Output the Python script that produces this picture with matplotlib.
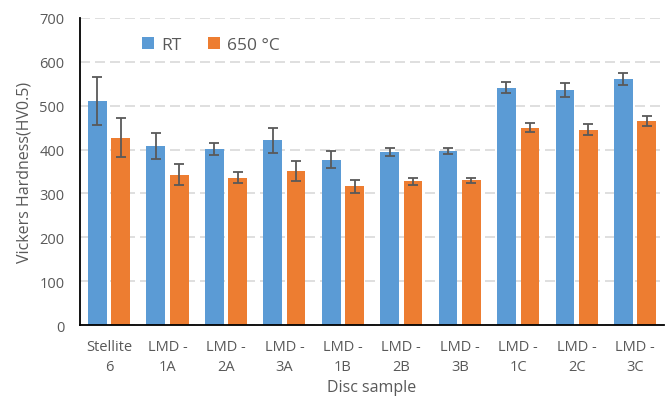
import numpy as np
import matplotlib
matplotlib.use("Agg")
import matplotlib.pyplot as plt

# values
samples = ["Stellite\n6", "LMD -\n1A", "LMD -\n2A", "LMD -\n3A", "LMD -\n1B",
           "LMD -\n2B", "LMD -\n3B", "LMD -\n1C", "LMD -\n2C", "LMD -\n3C"]
hv_rt = [511, 408, 402, 421, 377, 394, 396, 541, 536, 560]
err_rt = [54, 29, 14, 28, 19, 9, 7, 13, 16, 14]
hv_650 = [427, 343, 336, 351, 316, 328, 330, 450, 445, 465]
err_650 = [44, 23, 12, 23, 15, 8, 6, 11, 13, 12]

plt.rcParams['font.family'] = ['Open Sans', 'DejaVu Sans']
grey = '#595959'

fig = plt.figure(figsize=(6.71, 4.02), dpi=100)
ax = fig.add_axes([0.119, 0.189, 0.871, 0.764])

x = np.arange(len(samples))
w = 0.32
off = 0.2
ekw = dict(ecolor=grey, elinewidth=1.3, capsize=3.5, capthick=1.3)
ax.bar(x - off, hv_rt, w, yerr=err_rt, color='#5b9bd5', label='RT',
       error_kw=ekw, zorder=2)
ax.bar(x + off, hv_650, w, yerr=err_650, color='#ed7d31', label='650 °C',
       error_kw=ekw, zorder=2)

ax.set_xlim(-0.5, len(samples) - 0.5)
ax.set_ylim(0, 700)
ax.set_yticks(range(0, 701, 100))
ax.set_xticks(x)
ax.set_xticklabels(samples, linespacing=1.45)
ax.yaxis.grid(True, color='#d9d9d9', linestyle=(0, (6, 3)), linewidth=1.2, zorder=0)
ax.set_axisbelow(True)

for s in ['top', 'right']:
    ax.spines[s].set_visible(False)
ax.spines['left'].set_color('black')
ax.spines['bottom'].set_color('black')
ax.spines['left'].set_linewidth(1.3)
ax.spines['bottom'].set_linewidth(1.3)
ax.tick_params(axis='both', length=0, colors=grey, labelsize=10.5)
ax.tick_params(axis='y', pad=11)
ax.tick_params(axis='x', pad=10)

ax.set_xlabel('Disc sample', color=grey, fontsize=11.5, labelpad=4)
ax.set_ylabel('Vickers Hardness(HV0.5)', color=grey, fontsize=11.5, labelpad=5)

leg = ax.legend(loc='upper left', bbox_to_anchor=(0.08, 0.99), ncol=2, frameon=False,
                fontsize=12.5, handlelength=0.7, handleheight=0.7,
                handletextpad=0.4, columnspacing=1.5)
for t in leg.get_texts():
    t.set_color(grey)

fig.savefig('out.png', dpi=100)
